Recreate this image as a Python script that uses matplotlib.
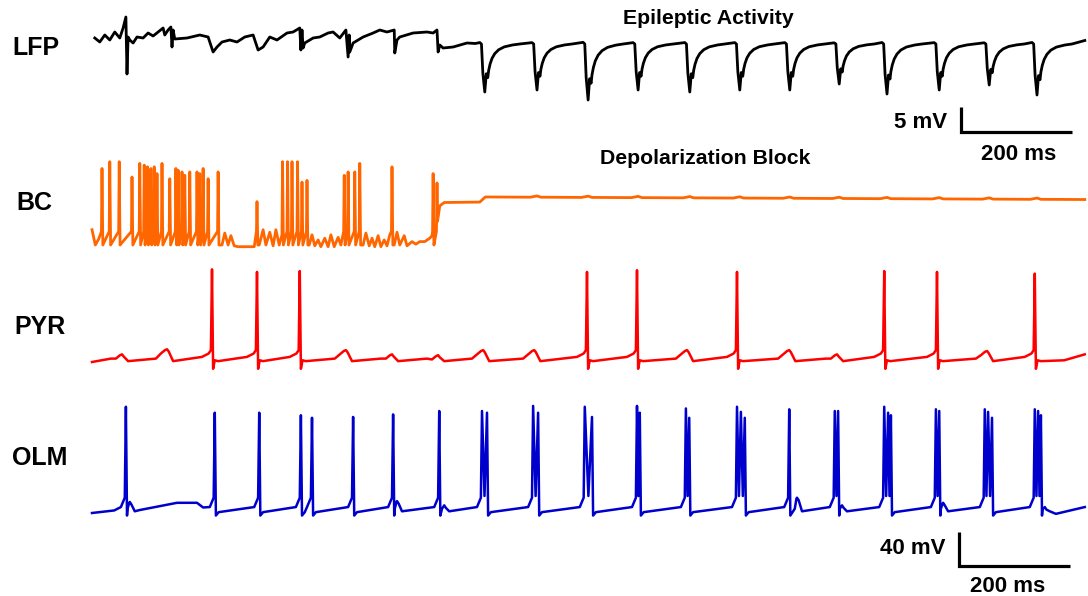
import numpy as np
import matplotlib
matplotlib.use("Agg")
import matplotlib.pyplot as plt

plt.rcParams["font.family"] = ["Liberation Sans", "DejaVu Sans"]

FIG_W, FIG_H, DPI = 1088, 596, 100
MS_PER_PX = 1.8        # horizontal scale shared by all traces
TRACE_LEFT_PX = 92     # t = 0 ms
T_END = 1787.0

# ---------------- LFP (ms, mV) ----------------
lfp_ms = [5, 14, 23, 32, 41, 50, 56, 61, 63, 65, 68, 74, 81, 92, 101, 110, 119, 128,
          131, 137, 142, 144, 146, 149, 171, 194, 209, 218, 225, 234, 248, 261, 275,
          290, 299, 308, 320, 333, 351, 362, 374, 376, 378, 380, 383, 398, 410, 425,
          434, 446, 457, 461, 463, 464, 470, 488, 506, 518, 531, 544, 545, 549, 554,
          578, 603, 614, 621, 623, 626, 632, 650, 675, 690]
lfp_mv = [0.8, 0.0, 1.4, 0.4, 2.0, 0.8, 2.8, 5.0, -6.4, 1.0, 0.4, -0.2, 1.0, 0.8, 1.8,
          1.2, 2.0, 2.8, 1.4, 2.4, 3.0, -1.0, 2.4, 0.6, 0.8, 1.4, 1.0, -2.0, -1.0, 0.0,
          0.4, 0.0, 1.0, 1.4, -1.6, -1.0, 1.0, 0.4, 1.8, 2.0, 2.8, -1.6, 2.4, -1.2, -0.2,
          0.8, 1.0, 1.8, 2.0, 0.8, 2.4, -3.0, 1.4, -2.0, -0.2, 1.0, 1.8, 2.4, 2.0, 2.4,
          -2.2, 0.4, 1.0, 1.8, 2.0, 1.8, 2.4, -2.0, -0.6, -1.2, -1.0, -0.2, -0.3]
lfp_dip_ms = [707, 801, 893, 983, 1076, 1166, 1256, 1345, 1431, 1525, 1615, 1701]
lfp_dip_mv = [-10.0, -9.6, -11.6, -9.6, -10.0, -9.6, -9.6, -8.4, -10.4, -9.6, -8.6, -10.6]
lfp_rest_mv = -0.4

# ---------------- BC basket cell ----------------
bc_spike_ms = [18, 32, 49, 72, 86, 94, 100, 106, 112, 117, 126, 140, 151, 155, 162, 167,
               176, 189, 194, 200, 209, 227, 297, 343, 352, 360, 370, 378, 387, 454,
               461, 473, 482, 540, 614, 621]
bc_spike_mv = [20, 28, 28, 10, 26, 24, 22, 20, 22, 14, 26, 8, 20, 18, 16, 12, 16, 16,
               14, 20, 8, 16, -19, 28, 28, 28, 28, 4, 6, 12, 16, 16, 26, 22, 14, 3]
bc_sub_ms = [0, 6, 12,
             234, 239, 245, 250, 256, 263, 292,
             301, 308, 313, 320, 326, 331, 337, 342,
             391, 396, 401, 407, 412, 419, 425, 430, 436, 443, 448,
             488, 493, 499, 504, 509, 515, 520, 526, 531, 536,
             544, 549, 554, 562, 567, 576, 583, 590, 599, 608, 612]
bc_sub_mv = [-52, -70, -63,
             -70, -56, -70, -59, -71, -72, -72,
             -70, -52, -70, -55, -71, -52, -70, -58,
             -70, -58, -71, -64, -72, -62, -72, -58, -72, -61, -70,
             -70, -56, -71, -62, -72, -59, -72, -64, -71, -58,
             -70, -55, -70, -59, -71, -66, -69, -66, -66, -62, -59]
bc_plateau_ms = [622, 626, 634, 698, 708, T_END]
bc_plateau_mv = [-42, -24, -20, -19.5, -13.5, -16.5]
bc_ripple_ms = [801, 893, 983, 1076, 1166, 1256, 1345, 1431, 1525, 1615, 1701]

# ---------------- PYR pyramidal cell ----------------
pyr_bump_ms = [54, 135, 457, 540, 623, 704, 796, 1071, 1255, 1341, 1611]
pyr_bump_mv = [-56, -50, -51, -56, -57, -51, -51, -51, -51, -56, -52]
pyr_spike_ms = [216, 297, 374, 891, 981, 1161, 1426, 1521, 1697]
pyr_spike_mv = [44, 41, 42, 41, 43, 41, 42, 41, 39]
pyr_rest_mv = -64

# ---------------- OLM interneuron ----------------
olm_spike_ms = [61, 221, 301, 376, 396, 470, 542, 625, 702, 711, 794, 803, 887, 900,
                981, 986, 1069, 1075, 1161, 1168, 1175, 1255, 1337, 1343, 1426, 1433,
                1438, 1519, 1525, 1607, 1613, 1620, 1697, 1703, 1708]
olm_spike_mv = [60, 53, 53, 50, 47, 48, 51, 55, 55, 53, 61, 53, 60, 48, 61, 53, 58, 47,
                60, 54, 47, 57, 55, 55, 60, 53, 50, 57, 55, 57, 54, 47, 57, 55, 50]
olm_adp_ms = [68, 549, 634, 1269, 1350, 1532, 1715]
olm_adp_mv = [-52, -51, -56, -47, -56, -53, -58]
olm_rest_ms = [0, 40, 86, 153, 189, 200, 1735, T_END]
olm_rest_mv = [-65, -62, -61.5, -53, -53, -58.5, -66, -58]


def as_xy(points):
    points = sorted(points)
    return np.array([p[0] for p in points]), np.array([p[1] for p in points])


def lfp_trace():
    # waveform of one epileptiform discharge, as fraction of its depth
    shape_ms = [-9, -6, -3.5, 0, 2.7, 5.4, 7, 9.5, 13, 18, 25, 35, 50, 63]
    shape_frac = [-0.03, 0, 0.6, 1.0, 0.62, 0.7, 0.55, 0.42, 0.3, 0.2, 0.12, 0.06, 0.02, 0]
    pts = list(zip(lfp_ms, lfp_mv)) + [(T_END, 0.3)]
    for t, depth in zip(lfp_dip_ms, lfp_dip_mv):
        for o, f in zip(shape_ms, shape_frac):
            pts.append((t + o, lfp_rest_mv + f * (depth - lfp_rest_mv)))
    return as_xy(pts)


def bc_trace():
    pts = list(zip(bc_sub_ms, bc_sub_mv)) + list(zip(bc_plateau_ms, bc_plateau_mv))
    for t, v in zip(bc_spike_ms, bc_spike_mv):
        pts += [(t - 1, -54), (t, v)]
        if t + 1.5 < bc_plateau_ms[0]:
            pts.append((t + 1.5, -70))
    for r in bc_ripple_ms:
        base = np.interp(r, bc_plateau_ms, bc_plateau_mv)
        pts += [(r - 12, base), (r, base + 1.5), (r + 7, base)]
    return as_xy(pts)


def pyr_trace():
    pts = [(0.0, -65.0), (1750, -63), (T_END, -56.0)]
    for t, v in zip(pyr_bump_ms, pyr_bump_mv):
        pts += [(t - 20, -61), (t - 11, v - 5), (t - 4, v - 1.2), (t, v),
                (t + 3, v - 2.5), (t + 11, pyr_rest_mv)]
    for t, v in zip(pyr_spike_ms, pyr_spike_mv):
        pts += [(t - 18, -59), (t - 6, -55), (t - 2, -51), (t, v), (t + 2, -73),
                (t + 5, -63), (t + 11, pyr_rest_mv)]
    return as_xy(pts)


def olm_trace():
    groups = []
    for t, v in zip(olm_spike_ms, olm_spike_mv):
        if groups and t - groups[-1][-1][0] < 15:
            groups[-1].append((t, v))
        else:
            groups.append([(t, v)])
    pts = list(zip(olm_rest_ms, olm_rest_mv))
    for g in groups:
        first, last = g[0][0], g[-1][0]
        pts += [(first - 9, -58), (first - 2, -47)]
        for k, (t, v) in enumerate(g):
            pts.append((t, v))
            if k + 1 < len(g):
                pts.append(((t + g[k + 1][0]) / 2, -45))
        pts.append((last + 2, -68))
        if not any(0 < a - last < 18 for a in olm_adp_ms):
            pts.append((last + 7, -64))
    for a, v in zip(olm_adp_ms, olm_adp_mv):
        pts += [(a - 4, -60), (a - 1, v - 1), (a, v), (a + 3, v - 3), (a + 9, -63)]
    return as_xy(pts)


fig = plt.figure(figsize=(FIG_W / DPI, FIG_H / DPI), dpi=DPI)


def trace_axes(row_zero, px_per_mv):
    # one transparent full-figure axes per trace, 0 mV sitting on pixel row `row_zero`
    ax = fig.add_axes([0, 0, 1, 1])
    ax.set_xlim(-TRACE_LEFT_PX * MS_PER_PX, (FIG_W - TRACE_LEFT_PX) * MS_PER_PX)
    ax.set_ylim((row_zero - FIG_H) / px_per_mv, row_zero / px_per_mv)
    ax.axis("off")
    ax.patch.set_alpha(0)
    return ax


def scale_bar(ax, t0, v0, dt, dv):
    ax.plot([t0, t0, t0 + dt], [v0 + dv, v0, v0], color="black", lw=2.3,
            solid_joinstyle="miter", solid_capstyle="butt")


def fig_text(x_px, y_px, s, size, ha="left"):
    fig.text(x_px / FIG_W, 1 - y_px / FIG_H, s, fontsize=size, fontweight="bold",
             ha=ha, va="center")


ax_lfp = trace_axes(42, 5.0)
ax_bc = trace_axes(185.5, 0.85)
ax_pyr = trace_axes(306.75, 0.85)
ax_olm = trace_axes(457.75, 0.85)

ax_lfp.plot(*lfp_trace(), color="black", lw=2.0)
ax_bc.plot(*bc_trace(), color="#ff6600", lw=2.0)
ax_pyr.plot(*pyr_trace(), color="#ff0000", lw=1.8)
ax_olm.plot(*olm_trace(), color="#0000cc", lw=1.8)

scale_bar(ax_lfp, 1564, -18, 200, 5)
scale_bar(ax_olm, 1561, -127.4, 200, 40)

fig_text(12, 48, "LFP", 18)
fig_text(16, 203, "BC", 18)
fig_text(14, 327, "PYR", 18)
fig_text(12, 458, "OLM", 18)
fig_text(708, 18, "Epileptic Activity", 15.3, ha="center")
fig_text(705, 158, "Depolarization Block", 15.3, ha="center")
fig_text(947, 123, "5 mV", 16, ha="right")
fig_text(1019, 155, "200 ms", 16, ha="center")
fig_text(945, 549, "40 mV", 16, ha="right")
fig_text(1008, 586, "200 ms", 16, ha="center")

fig.savefig("out.png", dpi=DPI)
